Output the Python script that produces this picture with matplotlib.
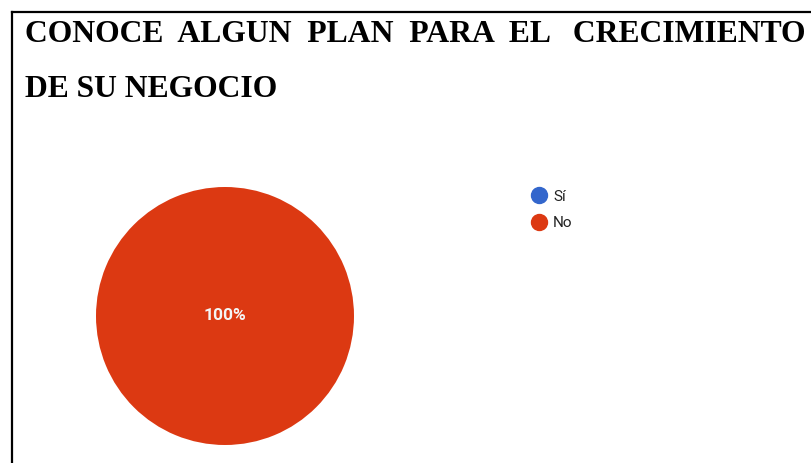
import matplotlib
matplotlib.use('Agg')
import matplotlib.pyplot as plt
from matplotlib.lines import Line2D

# datos de la encuesta
labels = ['Sí', 'No']
values = [0, 100]
colors = ['#3366CC', '#DC3912']
title_line1 = 'CONOCE  ALGUN  PLAN  PARA  EL   CRECIMIENTO'
title_line2 = 'DE SU NEGOCIO'

W, H = 811, 463
fig = plt.figure(figsize=(W / 100, H / 100), dpi=100)

# marco del cuadro (lineas superior e izquierda)
fig.add_artist(Line2D([12 / W, 1], [1 - 12 / H, 1 - 12 / H], color='black', lw=1.6))
fig.add_artist(Line2D([12 / W, 12 / W], [0, 1 - 12 / H], color='black', lw=1.6))

fig.text(25 / W, 1 - 42 / H, title_line1, family='Liberation Serif', weight='bold',
         fontsize=22.8, va='baseline', ha='left')
fig.text(25 / W, 1 - 97 / H, title_line2, family='Liberation Serif', weight='bold',
         fontsize=22.8, va='baseline', ha='left')

ax = fig.add_axes([96 / W, 18 / H, 258 / W, 258 / H])


def fmt(pct):
    return '' if pct == 0 else '%d%%' % round(pct)


wedges, texts, autotexts = ax.pie(values, colors=colors, startangle=90, counterclock=False,
                                  autopct=fmt, pctdistance=0, radius=1)
for t in autotexts:
    t.set_color('#f5f5f5')
    t.set_fontsize(12.5)
    t.set_family('Roboto')
    t.set_weight('bold')
ax.set_xlim(-1, 1)
ax.set_ylim(-1, 1)
ax.set_aspect('equal')
ax.axis('off')

handles = [Line2D([], [], marker='o', ls='', markersize=11.5, color=c) for c in colors]
fig.legend(handles, labels, loc='upper left', bbox_to_anchor=(514 / W, 1 - 176 / H),
           frameon=False, prop={'family': 'Roboto', 'size': 11}, labelcolor='#222222',
           handletextpad=0.15, labelspacing=0.8, handlelength=1.5)

fig.savefig('out.png', dpi=100)
